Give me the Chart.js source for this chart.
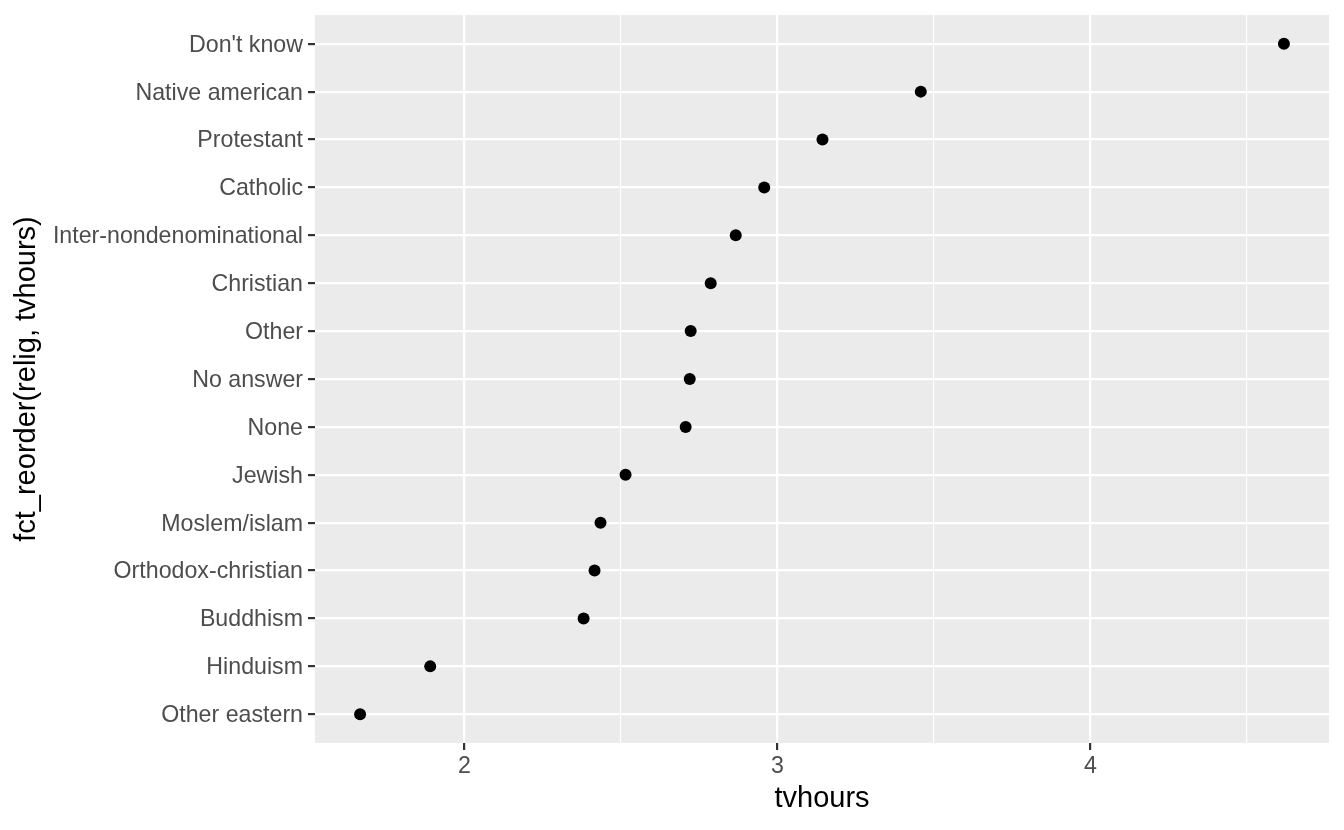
<!DOCTYPE html>
<html>
<head>
<meta charset="utf-8">
<script src="https://cdn.jsdelivr.net/npm/chart.js@4.4.0/dist/chart.umd.min.js"></script>
<style>
  html, body { margin: 0; padding: 0; background: #fff; }
  #chart { display: block; }
</style>
</head>
<body>
<canvas id="chart" width="1344" height="830"></canvas>
<script>
// categories bottom -> top, as ordered by fct_reorder
const religions = [
    'Other eastern', 'Hinduism', 'Buddhism', 'Orthodox-christian', 'Moslem/islam',
    'Jewish', 'None', 'No answer', 'Other', 'Christian',
    'Inter-nondenominational', 'Catholic', 'Protestant', 'Native american', "Don't know"
];
const tvhours = [
    1.667, 1.891, 2.381, 2.416, 2.435,
    2.515, 2.707, 2.720, 2.723, 2.787,
    2.867, 2.958, 3.144, 3.458, 4.618
];
const xTicks = [2, 2.5, 3, 3.5, 4, 4.5];

const FONT = 'Liberation Sans';
const TEXT_GREY = '#4D4D4D';

const points = tvhours.map((v, i) => ({ x: v, y: i + 1 }));

// grey panel behind the grid, ggplot style
const panelBg = {
    id: 'panelBg',
    beforeDraw: (chart) => {
        const { ctx, chartArea } = chart;
        ctx.save();
        ctx.fillStyle = '#EBEBEB';
        ctx.fillRect(chartArea.left, chartArea.top, chartArea.right - chartArea.left, chartArea.bottom - chartArea.top);
        ctx.restore();
    }
};

const isMajor = (v) => Math.abs(v - Math.round(v)) < 1e-6;

new Chart('chart', {
    type: 'scatter',
    data: {
        datasets: [{
            data: points,
            backgroundColor: '#000',
            borderWidth: 0,
            pointRadius: 6,
            pointHoverRadius: 6
        }]
    },
    options: {
        responsive: false,
        animation: false,
        layout: { padding: { top: 15, right: 15, left: 0, bottom: 0 } },
        plugins: {
            legend: { display: false },
            tooltip: { enabled: false }
        },
        scales: {
            x: {
                type: 'linear',
                min: 1.523,
                max: 4.762,
                afterBuildTicks: (scale) => {
                    scale.ticks = xTicks.map(v => ({ value: v }));
                },
                afterFit: (scale) => {
                    scale.height = 87;
                    scale.paddingLeft = 0;
                    scale.paddingRight = 0;
                },
                border: { display: false },
                grid: {
                    color: '#FFFFFF',
                    lineWidth: (ctx) => isMajor(ctx.tick.value) ? 2.2 : 1.1,
                    tickColor: (ctx) => isMajor(ctx.tick.value) ? '#333333' : 'rgba(0,0,0,0)',
                    tickLength: 7,
                    tickWidth: 2.2
                },
                ticks: {
                    autoSkip: false,
                    maxRotation: 0,
                    padding: 3,
                    color: TEXT_GREY,
                    font: { family: FONT, size: 23.2 },
                    callback: (v) => isMajor(v) ? String(v) : ''
                },
                title: {
                    display: true,
                    text: 'tvhours',
                    color: '#000',
                    font: { family: FONT, size: 29 },
                    padding: { top: 0, bottom: 14 }
                }
            },
            y: {
                type: 'linear',
                min: 0.4,
                max: 15.6,
                afterBuildTicks: (scale) => {
                    scale.ticks = religions.map((_, i) => ({ value: i + 1 }));
                },
                afterFit: (scale) => {
                    scale.width = 315;
                    scale.paddingTop = 0;
                    scale.paddingBottom = 0;
                },
                border: { display: false },
                grid: {
                    color: '#FFFFFF',
                    lineWidth: 2.2,
                    tickColor: '#333333',
                    tickLength: 7,
                    tickWidth: 2.2
                },
                ticks: {
                    autoSkip: false,
                    padding: 5,
                    labelOffset: 1.5,
                    color: TEXT_GREY,
                    font: { family: FONT, size: 23.2 },
                    callback: (v) => religions[v - 1]
                },
                title: {
                    display: true,
                    text: 'fct_reorder(relig, tvhours)',
                    color: '#000',
                    font: { family: FONT, size: 29 },
                    padding: { top: 10, bottom: 0 }
                }
            }
        }
    },
    plugins: [panelBg]
});
</script>
</body>
</html>
